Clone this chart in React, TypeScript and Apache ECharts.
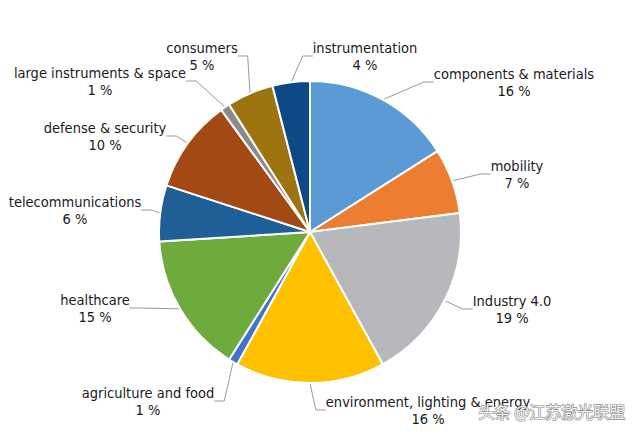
import React, { useEffect, useRef } from "react";
import * as echarts from "echarts";

const categories = [
  "components & materials",
  "mobility",
  "Industry 4.0",
  "environment, lighting & energy",
  "agriculture and food",
  "healthcare",
  "telecommunications",
  "defense & security",
  "large instruments & space",
  "consumers",
  "instrumentation",
];
const shares = [16, 7, 19, 16, 1, 15, 6, 10, 1, 5, 4];
const colors = [
  "#5b9bd5",
  "#ed7d31",
  "#b7b8bb",
  "#fdc100",
  "#4472c4",
  "#6eaa3c",
  "#1f5f98",
  "#a34a14",
  "#8a8a8a",
  "#9c7410",
  "#0d4a85",
];
// label block centres (layout only)
const labelPos: Record<string, [number, number]> = {
  "components & materials": [514, 82],
  mobility: [517, 174],
  "Industry 4.0": [512, 309],
  "environment, lighting & energy": [428, 410],
  "agriculture and food": [148, 401],
  healthcare: [95, 308],
  telecommunications: [75, 210],
  "defense & security": [105, 136],
  "large instruments & space": [100, 81],
  consumers: [202, 56],
  instrumentation: [365, 56],
};

export default function App() {
  const ref = useRef<HTMLDivElement>(null);
  useEffect(() => {
    document.body.style.margin = "0";
    const chart = echarts.init(ref.current!, undefined, { renderer: "svg" });
    const font = '"Liberation Sans Narrow", "DejaVu Sans Condensed", "Roboto", sans-serif';
    chart.setOption({
      animation: false,
      backgroundColor: "#ffffff",
      graphic: [
        {
          type: "text",
          left: 478,
          top: 402,
          style: {
            text: "头条 @江苏激光联盟",
            fill: "#f4f4f4",
            stroke: "#8a8a8a",
            lineWidth: 1.2,
            font: '16px "Noto Sans CJK SC", sans-serif',
          },
          z: 100,
        },
      ],
      series: [
        {
          type: "pie",
          center: [310, 232],
          radius: 151,
          startAngle: 90,
          clockwise: true,
          avoidLabelOverlap: false,
          itemStyle: { borderColor: "#ffffff", borderWidth: 2 },
          label: {
            show: true,
            formatter: "{b}\n{c} %",
            fontFamily: font,
            fontSize: 14.5,
            lineHeight: 17,
            color: "#1a1a1a",
            align: "center",
          },
          labelLine: {
            show: true,
            length: 15,
            length2: 10,
            lineStyle: { color: "#9a9a9a", width: 1 },
          },
          labelLayout: (params: any) => {
            const name = categories[params.dataIndex];
            const p = labelPos[name];
            return {
              x: p[0],
              y: p[1],
              align: "center",
              verticalAlign: "middle",
            };
          },
          data: categories.map((c, i) => ({
            name: c,
            value: shares[i],
            itemStyle: { color: colors[i] },
          })),
        },
      ],
    });
    return () => chart.dispose();
  }, []);
  return <div ref={ref} style={{ width: 640, height: 436 }} />;
}
